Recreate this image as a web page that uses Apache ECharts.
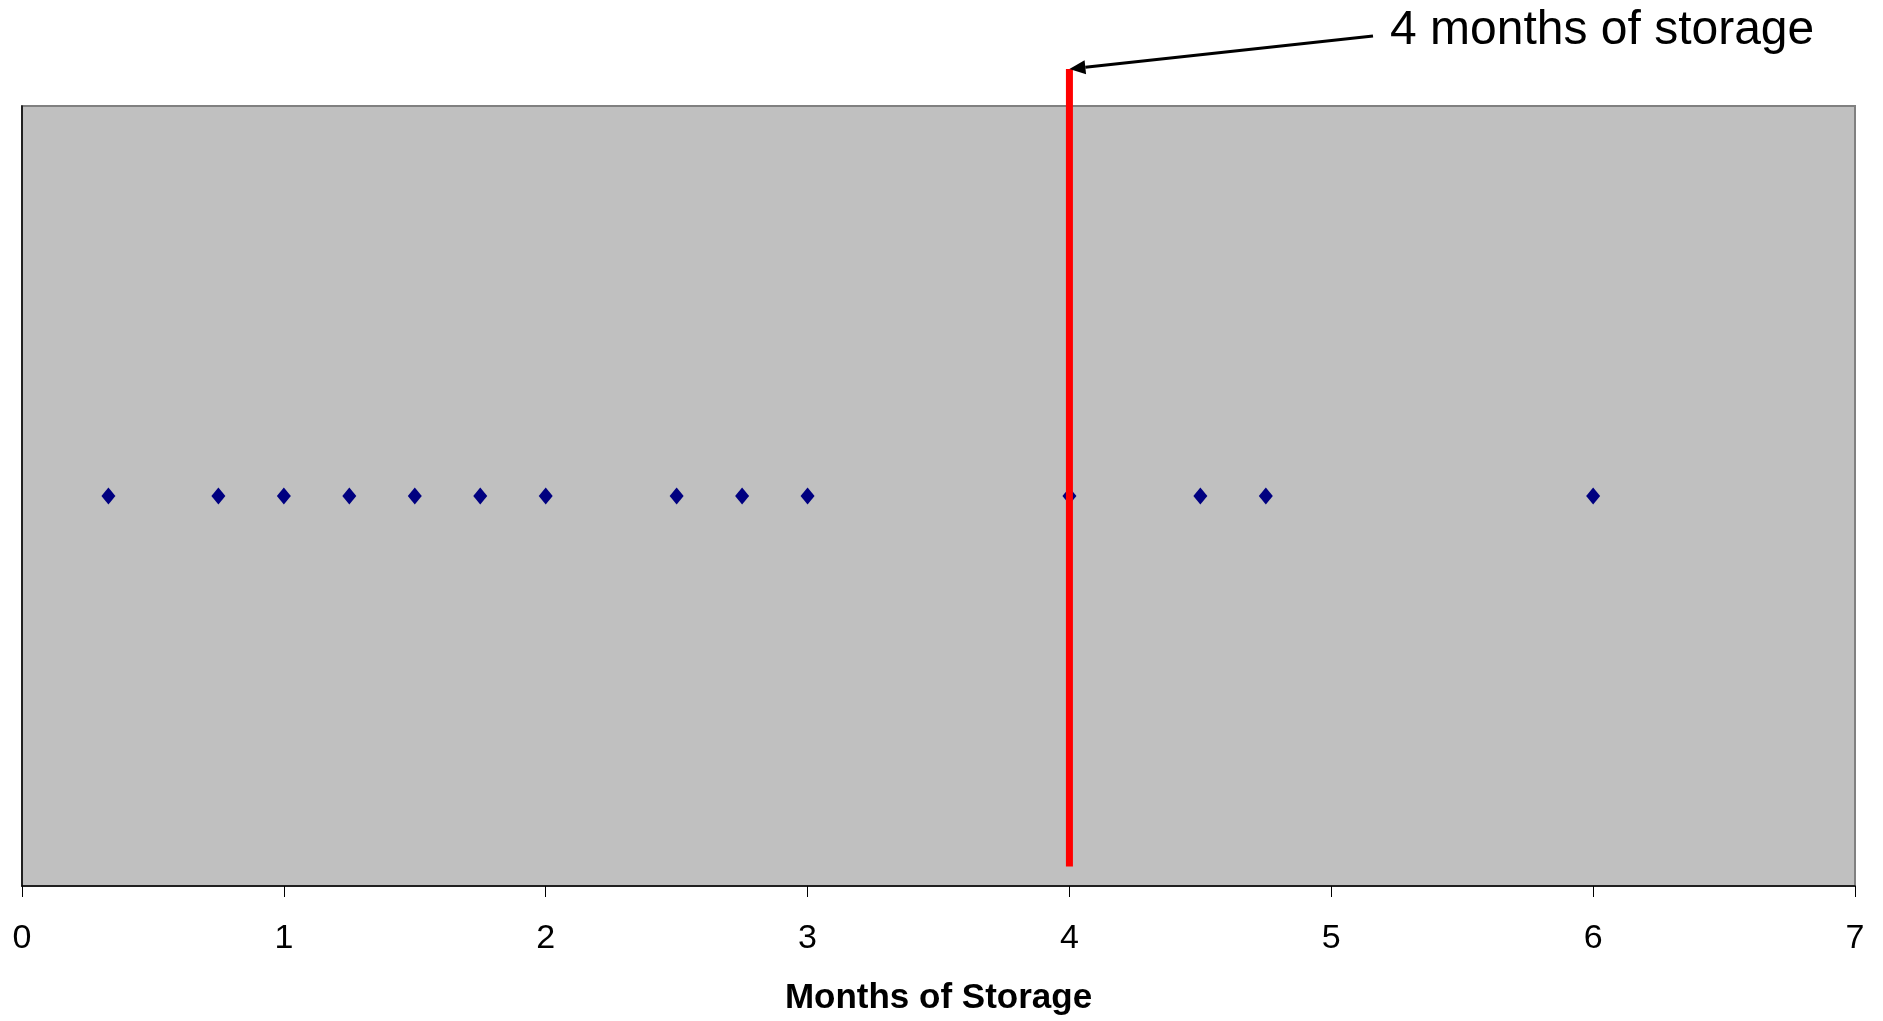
<!DOCTYPE html>
<html><head><meta charset="utf-8">
<script src="https://cdn.jsdelivr.net/npm/echarts@6/dist/echarts.min.js"></script>
<style>html,body{margin:0;padding:0;background:#fff}#c{width:1883px;height:1021px}</style>
</head><body><div id="c"></div>
<script>
const FONT = 'Liberation Sans, Arial, sans-serif';
const xTicks = [0, 1, 2, 3, 4, 5, 6, 7];
const storageMonths = [0.33, 0.75, 1, 1.25, 1.5, 1.75, 2, 2.5, 2.75, 3, 4, 4.5, 4.75, 6];
const storageLevel = [1, 1, 1, 1, 1, 1, 1, 1, 1, 1, 1, 1, 1, 1];
const cutoffMonths = 4;
const cutoffRange = [0.05, 2.095];
const annotationText = '4 months of storage';
const axisTitle = 'Months of Storage';

const chart = echarts.init(document.getElementById('c'));
chart.setOption({
  animation: false,
  backgroundColor: '#ffffff',
  grid: {left: 22, right: 28, top: 106, bottom: 133, show: true,
         backgroundColor: '#C0C0C0', borderColor: '#808080', borderWidth: 2},
  xAxis: {
    type: 'value', min: xTicks[0], max: xTicks[xTicks.length - 1], interval: 1,
    name: axisTitle, nameLocation: 'middle', nameGap: 95,
    nameTextStyle: {fontFamily: FONT, fontSize: 35, fontWeight: 'bold', color: '#000'},
    axisLine: {show: true, lineStyle: {color: '#000', width: 1.5}},
    axisTick: {show: true, inside: false, length: 11, lineStyle: {color: '#000', width: 1}},
    axisLabel: {fontFamily: FONT, fontSize: 34, color: '#000', margin: 36,
                formatter: v => xTicks.includes(v) ? String(v) : ''},
    splitLine: {show: false}
  },
  yAxis: {
    type: 'value', min: 0, max: 2,
    axisLine: {show: true, lineStyle: {color: '#000', width: 1.5}},
    axisTick: {show: false}, axisLabel: {show: false}, splitLine: {show: false}
  },
  series: [
    {
      type: 'scatter', symbol: 'diamond', symbolSize: [14, 17],
      itemStyle: {color: '#000080', opacity: 1},
      data: storageMonths.map((m, i) => [m, storageLevel[i]]),
      z: 2
    },
    {
      type: 'line', clip: false, symbol: 'none', z: 3,
      lineStyle: {color: '#FF0000', width: 7, cap: 'butt'},
      data: cutoffRange.map(v => [cutoffMonths, v])
    }
  ]
});

// annotation arrow from label to the top of the cutoff line
const tip = chart.convertToPixel({gridIndex: 0}, [cutoffMonths, cutoffRange[1]]);
const textLeft = 1390, textY = 31;
const tail = [textLeft - 17, 36];
const ang = Math.atan2(tail[1] - tip[1], tail[0] - tip[0]);
const L = 16, W = 7;
const bx = tip[0] + Math.cos(ang) * L, by = tip[1] + Math.sin(ang) * L;
const px = -Math.sin(ang) * W, py = Math.cos(ang) * W;
chart.setOption({
  graphic: [
    {type: 'line', shape: {x1: tail[0], y1: tail[1], x2: bx, y2: by},
     style: {stroke: '#000', lineWidth: 3}, z: 10},
    {type: 'polygon', shape: {points: [[tip[0], tip[1]], [bx + px, by + py], [bx - px, by - py]]},
     style: {fill: '#000'}, z: 10},
    {type: 'text', left: textLeft, top: textY - 24,
     style: {text: annotationText, font: '48px ' + FONT, fill: '#000'}, z: 10}
  ]
});
</script>
</body></html>
